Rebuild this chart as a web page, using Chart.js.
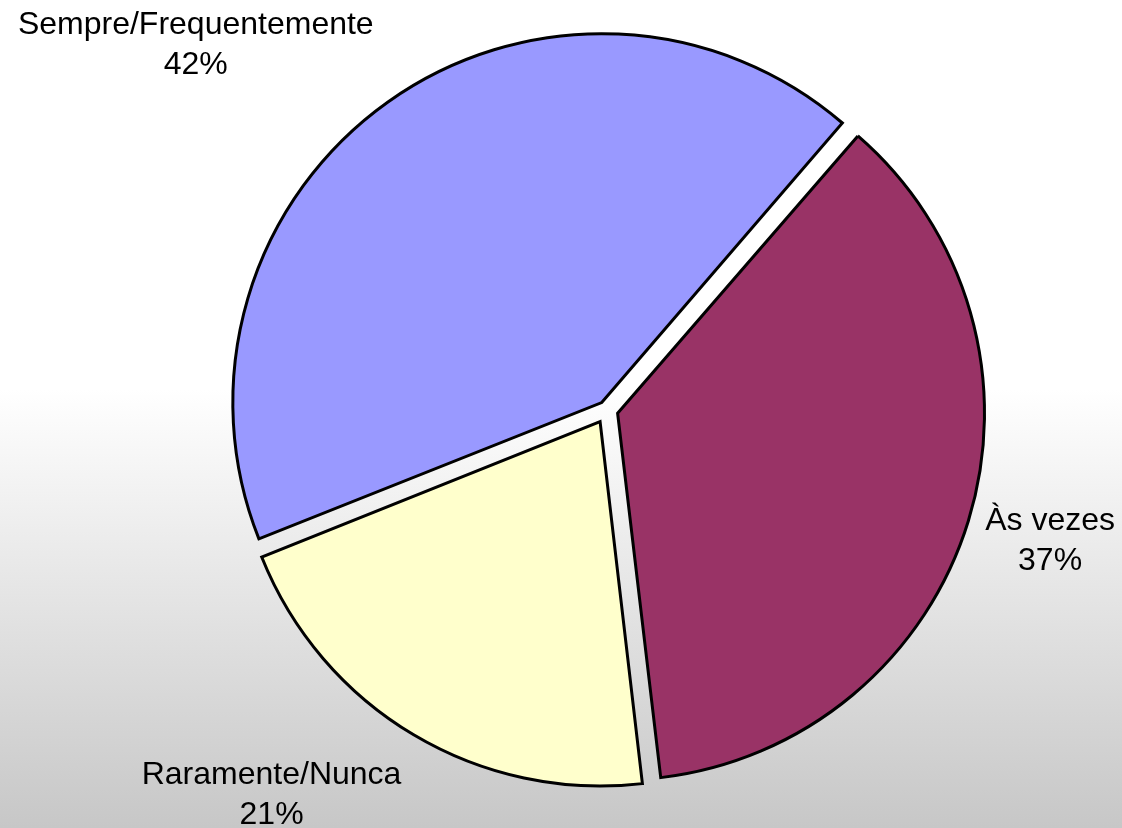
<!DOCTYPE html>
<html>
<head>
<meta charset="utf-8">
<script src="https://cdn.jsdelivr.net/npm/chart.js@4"></script>
<style>
  html, body { margin:0; padding:0; }
  #wrap { width:1122px; height:828px; position:relative;
          background:linear-gradient(to bottom, #ffffff 0%, #ffffff 47%, #c7c7c7 100%); }
</style>
</head>
<body>
<div id="wrap"><canvas id="pieChart"></canvas></div>
<script>
const categories = ["Sempre/Frequentemente", "Às vezes", "Raramente/Nunca"];
const values     = [42.4, 36.8, 20.8];
const pctLabels  = ["42%", "37%", "21%"];
const colors     = ["#9999FF", "#993366", "#FFFFCC"];

const FONT = "32px 'Liberation Sans', Arial, sans-serif";
const LINE_H = 40;
const EXPLODE = 14; // px each slice is pulled out

// Chart.js v4 draws an arc shifted by offset/4 * (1 + fix), so invert that per slice
function arcOffset(c) {
  const v = c.dataset.data[c.dataIndex];
  const total = c.dataset.data.reduce((a, b) => a + b, 0);
  const circ = v / total * 2 * Math.PI;
  const fix = 1 - Math.sin(Math.min(Math.PI, circ));
  return EXPLODE * 4 / (1 + fix);
}

// labels outside each slice, pushed away from the pie on the side of the slice
const outsideLabels = {
  id: "outsideLabels",
  afterDatasetsDraw(chart) {
    const ctx = chart.ctx;
    const meta = chart.getDatasetMeta(0);
    const W = chart.width, H = chart.height;
    ctx.save();
    ctx.font = FONT;
    ctx.fillStyle = "#000";
    ctx.textBaseline = "middle";
    ctx.textAlign = "center";
    meta.data.forEach((arc, i) => {
      const p = arc.getProps(["x", "y", "startAngle", "endAngle", "outerRadius"], true);
      const mid = (p.startAngle + p.endAngle) / 2;
      const dx = Math.cos(mid), dy = Math.sin(mid);
      const dist = p.outerRadius + EXPLODE + 24;
      const lines = [categories[i], pctLabels[i]];
      const w = Math.max(...lines.map(t => ctx.measureText(t).width));
      let cx = p.x + dx * dist + Math.sign(dx) * w / 2;
      let cy = p.y + dy * dist + dy * LINE_H * 1.15;
      cx = Math.min(Math.max(cx, w / 2 + 7), W - w / 2 - 7);
      cy = Math.min(Math.max(cy, 33), H - 33);
      ctx.fillText(lines[0], cx, cy - LINE_H / 2);
      ctx.fillText(lines[1], cx, cy + LINE_H / 2);
    });
    ctx.restore();
  }
};

new Chart(document.getElementById("pieChart").getContext("2d"), {
  type: "pie",
  data: {
    labels: categories,
    datasets: [{
      data: values,
      backgroundColor: colors,
      borderColor: "#000",
      borderWidth: 3,
      borderJoinStyle: "miter",
      offset: arcOffset
    }]
  },
  options: {
    responsive: true,
    maintainAspectRatio: false,
    animation: false,
    rotation: -111.8,
    radius: 364,
    layout: { padding: { left: 92, right: 0, top: 0, bottom: 8 } },
    plugins: { legend: { display: false }, tooltip: { enabled: false } }
  },
  plugins: [outsideLabels]
});
</script>
</body>
</html>
